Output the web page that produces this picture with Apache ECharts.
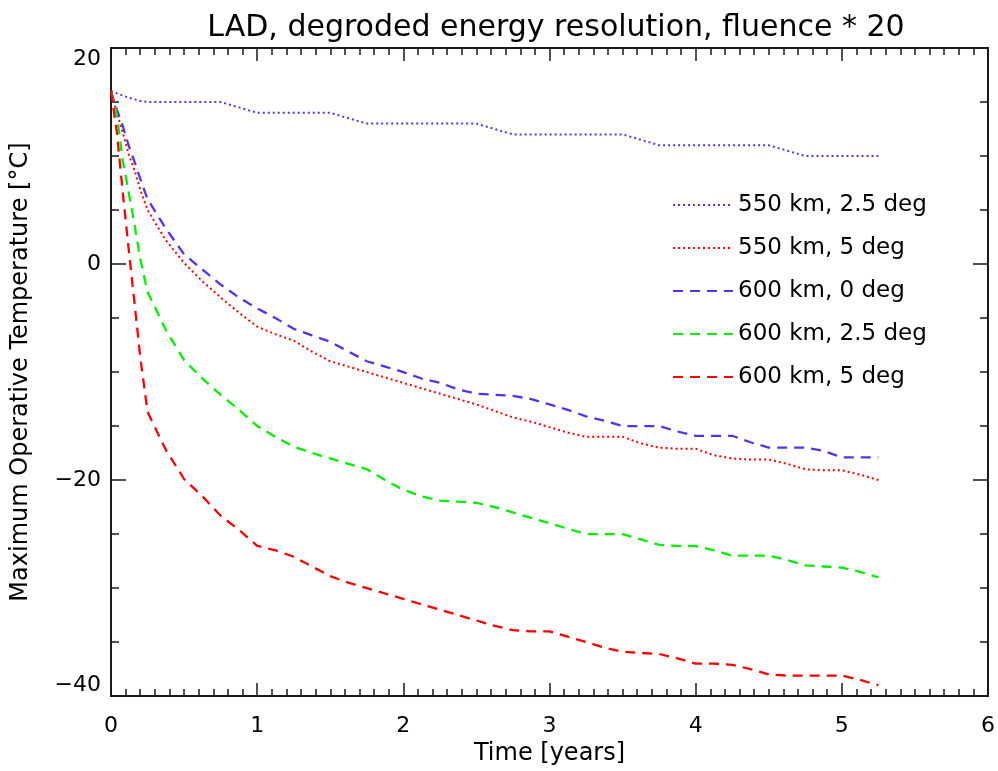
<!DOCTYPE html>
<html>
<head>
<meta charset="utf-8">
<script src="https://cdn.jsdelivr.net/npm/echarts@6/dist/echarts.min.js"></script>
<style>
html,body{margin:0;padding:0;background:#fff;}
#chart{width:998px;height:771px;}
</style>
</head>
<body>
<div id="chart"></div>
<script>
// time in years
const time = [0, 0.04, 0.08, 0.12, 0.16, 0.2, 0.25,
  0.375, 0.5, 0.625, 0.75, 0.875, 1, 1.125, 1.25, 1.375, 1.5, 1.625, 1.75, 1.875,
  2, 2.125, 2.25, 2.375, 2.5, 2.625, 2.75, 2.875, 3, 3.125, 3.25, 3.375, 3.5, 3.625, 3.75, 3.875,
  4, 4.125, 4.25, 4.375, 4.5, 4.625, 4.75, 4.875, 5, 5.125, 5.25];

const t550_25 = [16, 15.8, 15.6, 15.4, 15.25, 15.1, 15.0,
  15, 15, 15, 15, 14.5, 14, 14, 14, 14, 14, 13.5, 13, 13,
  13, 13, 13, 13, 13, 12.5, 12, 12, 12, 12, 12, 12, 12, 11.5, 11, 11,
  11, 11, 11, 11, 11, 10.5, 10, 10, 10, 10, 10];

const t550_5 = [16, 14.0, 12.2, 10.2, 8.7, 6.9, 5.0,
  2.2, 0.1, -1.6, -3.1, -4.5, -5.8, -6.5, -7.1, -8.1, -9.0, -9.5, -10.0, -10.5,
  -11.0, -11.5, -12.0, -12.5, -13.0, -13.6, -14.2, -14.6, -15.1, -15.6, -16.0, -16.0, -16.0, -16.6, -17.0, -17.1,
  -17.1, -17.7, -18.0, -18.1, -18.1, -18.5, -19.0, -19.1, -19.1, -19.5, -20.0];

const t600_0 = [16, 14.3, 12.8, 11.0, 9.5, 7.9, 6.0,
  3.3, 0.9, -0.5, -1.9, -3.1, -4.1, -5.0, -6.0, -6.6, -7.2, -8.1, -9.0, -9.5,
  -10.0, -10.6, -11.0, -11.6, -12.0, -12.1, -12.2, -12.5, -13.0, -13.5, -14.1, -14.5, -15.0, -15.0, -15.0, -15.5,
  -15.9, -15.9, -15.9, -16.5, -17.0, -17.0, -17.0, -17.3, -17.9, -17.9, -17.9];

const t600_25 = [16, 13.8, 9.6, 6.7, 3.7, 0.5, -2.6,
  -6.1, -8.9, -10.6, -12.1, -13.5, -15.0, -16.0, -16.9, -17.5, -18.0, -18.5, -19.0, -20.0,
  -20.9, -21.5, -21.9, -22.0, -22.1, -22.5, -23.0, -23.5, -24.0, -24.5, -25.0, -25.0, -25.0, -25.5, -26.0, -26.1,
  -26.1, -26.5, -27.0, -27.0, -27.0, -27.4, -27.9, -28.0, -28.1, -28.5, -29.0];

const t600_5 = [16, 12.2, 6.7, 1.5, -3.5, -8.6, -13.7,
  -17.2, -19.9, -21.5, -23.3, -24.6, -26.1, -26.5, -27.1, -28.0, -28.9, -29.5, -30.0, -30.5,
  -31.0, -31.5, -32.0, -32.5, -33.0, -33.5, -33.9, -34.0, -34.0, -34.5, -35.0, -35.5, -35.9, -36.0, -36.1, -36.5,
  -37.0, -37.0, -37.1, -37.5, -38.0, -38.1, -38.1, -38.1, -38.1, -38.5, -39.0];

const seriesNames = ['550 km, 2.5 deg', '550 km, 5 deg', '600 km, 0 deg', '600 km, 2.5 deg', '600 km, 5 deg'];

const BLUE = '#5533ee', RED = '#ff0000', GREEN = '#00ee00';
const FONT = 'DejaVu Sans';

function pairs(vals){ return time.map((t,i)=>[t, vals[i]]); }

function mkSeries(name, vals, color, dashed){
  return {
    name: name, type: 'line', data: pairs(vals), symbol: 'none', smooth: false,
    xAxisIndex: 0, yAxisIndex: 0,
    lineStyle: dashed ? {color: color, width: 2.3, type: [10, 7]} : {color: color, width: 2, type: [2, 3]},
    itemStyle: {color: color},
    emphasis: {disabled: true}
  };
}

function axisCommon(){
  return {
    axisLine: {show: true, onZero: false, lineStyle: {color: '#1a1a1a', width: 2}},
    splitLine: {show: false},
  };
}

const chart = echarts.init(document.getElementById('chart'), null, {renderer: 'canvas'});
chart.setOption({
  backgroundColor: '#ffffff',
  animation: false,
  textStyle: {fontFamily: FONT},
  title: {
    text: 'LAD, degroded energy resolution, fluence * 20',
    left: 551, top: 8, textAlign: 'center',
    textStyle: {fontFamily: FONT, fontSize: 30, fontWeight: 'normal', color: '#000'}
  },
  grid: {left: 111, right: 8, top: 48, bottom: 73, containLabel: false},
  legend: {
    data: seriesNames,
    orient: 'vertical', left: 672, top: 193, padding: 0,
    itemWidth: 60, itemHeight: 14, itemGap: 19,
    itemStyle: {opacity: 0},
    textStyle: {fontFamily: FONT, fontSize: 23, color: '#000', padding: [0,0,0,0], lineHeight: 24},
    selectedMode: false
  },
  xAxis: [
    Object.assign(axisCommon(), {
      type: 'value', min: 0, max: 6, interval: 1, position: 'bottom',
      name: 'Time [years]', nameLocation: 'middle', nameGap: 43,
      nameTextStyle: {fontFamily: FONT, fontSize: 24, color: '#000'},
      axisTick: {show: true, inside: true, length: 13, lineStyle: {color: '#1a1a1a', width: 1.5}},
      minorTick: {show: true, splitNumber: 10, length: 7, lineStyle: {color: '#1a1a1a', width: 1.5}},
      axisLabel: {show: true, margin: 19, fontFamily: FONT, fontSize: 22, color: '#000', showMinLabel: true, showMaxLabel: true}
    }),
    Object.assign(axisCommon(), {
      type: 'value', min: 0, max: 6, interval: 1, position: 'top',
      axisTick: {show: true, inside: true, length: 13, lineStyle: {color: '#1a1a1a', width: 1.5}},
      minorTick: {show: true, splitNumber: 10, length: 7, lineStyle: {color: '#1a1a1a', width: 1.5}},
      axisLabel: {show: false}
    })
  ],
  yAxis: [
    Object.assign(axisCommon(), {
      type: 'value', min: -40, max: 20, interval: 20, position: 'left',
      name: 'Maximum Operative Temperature [°C]', nameLocation: 'middle', nameGap: 78, nameRotate: 90,
      nameTextStyle: {fontFamily: FONT, fontSize: 24, color: '#000'},
      axisTick: {show: true, inside: true, length: 15, lineStyle: {color: '#1a1a1a', width: 1.5}},
      minorTick: {show: true, splitNumber: 4, length: 8, lineStyle: {color: '#1a1a1a', width: 1.5}},
      axisLabel: {show: true, margin: 10, fontFamily: FONT, fontSize: 22, color: '#000',
        showMinLabel: true, showMaxLabel: true,
        verticalAlignMinLabel: 'bottom', verticalAlignMaxLabel: 'top',
        formatter: v => (v < 0 ? '\u2212' + Math.abs(v) : String(v))}
    }),
    Object.assign(axisCommon(), {
      type: 'value', min: -40, max: 20, interval: 20, position: 'right',
      axisTick: {show: true, inside: true, length: 15, lineStyle: {color: '#1a1a1a', width: 1.5}},
      minorTick: {show: true, splitNumber: 4, length: 8, lineStyle: {color: '#1a1a1a', width: 1.5}},
      axisLabel: {show: false}
    })
  ],
  series: [
    mkSeries(seriesNames[0], t550_25, BLUE, false),
    mkSeries(seriesNames[1], t550_5, RED, false),
    mkSeries(seriesNames[2], t600_0, BLUE, true),
    mkSeries(seriesNames[3], t600_25, GREEN, true),
    mkSeries(seriesNames[4], t600_5, RED, true)
  ]
});
</script>
</body>
</html>
